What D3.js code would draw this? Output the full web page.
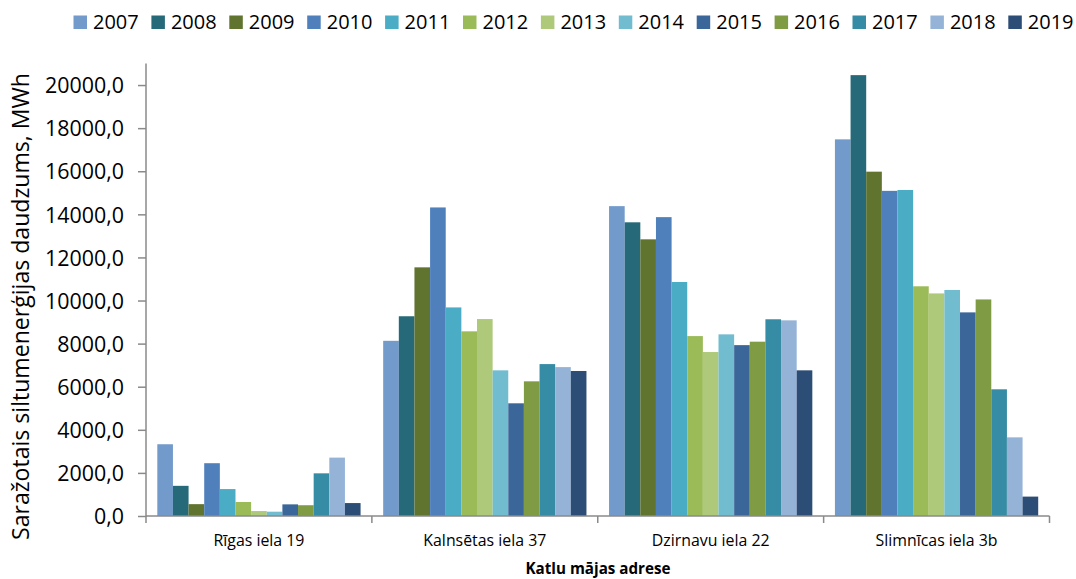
<!DOCTYPE html>
<html>
<head>
<meta charset="utf-8">
<script src="https://cdn.jsdelivr.net/npm/d3@7"></script>
<style>
  html, body { margin: 0; padding: 0; background: #fff; }
  svg { display: block; font-family: "Open Sans", "Noto Sans", sans-serif; }
</style>
</head>
<body>
<svg id="chart" width="1076" height="579"></svg>
<script>
const categories = ["Rīgas iela 19", "Kalnsētas iela 37", "Dzirnavu iela 22", "Slimnīcas iela 3b"];
const years = ["2007","2008","2009","2010","2011","2012","2013","2014","2015","2016","2017","2018","2019"];
// values per year, one entry per category (MWh)
const v2007 = [3330, 8130, 14380, 17480];
const v2008 = [1400, 9270, 13630, 20460];
const v2009 = [550, 11540, 12840, 15980];
const v2010 = [2450, 14320, 13870, 15090];
const v2011 = [1250, 9680, 10860, 15130];
const v2012 = [650, 8570, 8350, 10660];
const v2013 = [230, 9140, 7610, 10330];
const v2014 = [200, 6760, 8430, 10490];
const v2015 = [540, 5230, 7930, 9450];
const v2016 = [500, 6250, 8090, 10050];
const v2017 = [1980, 7050, 9130, 5880];
const v2018 = [2710, 6910, 9080, 3650];
const v2019 = [600, 6730, 6760, 900];
const yTicks = [0, 2000, 4000, 6000, 8000, 10000, 12000, 14000, 16000, 18000, 20000];
const yTitle = "Saražotais siltumenerģijas daudzums, MWh";
const xTitle = "Katlu mājas adrese";

const seriesValues = [v2007, v2008, v2009, v2010, v2011, v2012, v2013, v2014, v2015, v2016, v2017, v2018, v2019];
const colors = ["#729ACB","#266A79","#607430","#4F80BC","#4BACC6","#9BBB59","#AFC97A","#71BCCF","#3B6699","#7F9B43","#358CA4","#95B3D7","#2C4D75"];

const svg = d3.select("#chart");
const mLeft = 146, mRight = 1049.5, mBottom = 516, mTop = 63.5;

const x0 = d3.scaleBand().domain(categories).range([mLeft, mRight]).padding(0);
const groupPad = 11.3;
const x1 = d3.scaleBand().domain(years).range([groupPad, x0.bandwidth() - groupPad]).padding(0);
const y = d3.scaleLinear().domain([0, 21000]).range([mBottom, mTop]);
const color = d3.scaleOrdinal().domain(years).range(colors);

const data = [];
categories.forEach((c, ci) => {
  years.forEach((yr, yi) => data.push({ cat: c, year: yr, value: seriesValues[yi][ci] }));
});

// helper: font size so that a sample text has a given width
function fitSize(sample, width, weight) {
  const t = svg.append("text").style("font-size", "20px").style("font-weight", weight || "normal").text(sample);
  const w = t.node().getComputedTextLength();
  t.remove();
  return (20 * width / w).toFixed(2) + "px";
}

// bars
svg.append("g").selectAll("rect").data(data).join("rect")
  .attr("x", d => x0(d.cat) + x1(d.year))
  .attr("y", d => y(d.value))
  .attr("width", x1.bandwidth())
  .attr("height", d => mBottom - y(d.value))
  .attr("fill", d => color(d.year));

const axisColor = "#8a8a8a";
const fmt = d => d3.format(".1f")(d).replace(".", ",");

// y axis
const tickSize = fitSize(fmt(20000), 79);
const yAxis = svg.append("g").attr("transform", `translate(${mLeft},0)`)
  .call(d3.axisLeft(y).tickValues(yTicks).tickSize(8).tickPadding(14).tickFormat(fmt));
yAxis.select(".domain").attr("stroke", axisColor).attr("stroke-width", 1.5)
  .attr("d", `M0,${mTop}V${mBottom + 1}`);
yAxis.selectAll(".tick line").attr("stroke", axisColor).attr("stroke-width", 1.5);
yAxis.selectAll(".tick text").attr("fill", "#000").style("font-size", tickSize)
  .style("font-family", "'Open Sans', sans-serif").attr("dy", "0.36em");

// x axis
const xg = svg.append("g");
xg.append("line").attr("x1", mLeft).attr("x2", mRight).attr("y1", mBottom).attr("y2", mBottom)
  .attr("stroke", axisColor).attr("stroke-width", 1.5);
const bounds = categories.map(c => x0(c)).concat([x0(categories[categories.length - 1]) + x0.bandwidth()]);
xg.selectAll("line.tk").data(bounds).join("line").attr("class", "tk")
  .attr("x1", d => d).attr("x2", d => d).attr("y1", mBottom).attr("y2", mBottom + 7)
  .attr("stroke", axisColor).attr("stroke-width", 1.5);
const catSize = fitSize(categories[0], 91);
xg.selectAll("text").data(categories).join("text")
  .attr("x", d => x0(d) + x0.bandwidth() / 2)
  .attr("y", 546)
  .attr("text-anchor", "middle")
  .style("font-size", catSize)
  .attr("fill", "#000")
  .text(d => d);

// x title
svg.append("text").attr("x", 598).attr("y", 574).attr("text-anchor", "middle")
  .style("font-size", fitSize(xTitle, 145, "bold")).style("font-weight", "bold").attr("fill", "#000").text(xTitle);

// y title
svg.append("text").attr("transform", "translate(29,306.5) rotate(-90)")
  .attr("text-anchor", "middle").style("font-size", fitSize(yTitle, 467)).attr("fill", "#000").text(yTitle);

// legend
const lg = svg.append("g");
const legStart = 73.5, legStep = 77.9;
years.forEach((yr, i) => {
  const g = lg.append("g").attr("transform", `translate(${legStart + i * legStep},0)`);
  g.append("rect").attr("x", 0).attr("y", 15.5).attr("width", 13.5).attr("height", 13.5).attr("fill", color(yr));
  g.append("text").attr("x", 19.5).attr("y", 29).style("font-size", "20px").attr("fill", "#000").text(yr);
});
</script>
</body>
</html>
